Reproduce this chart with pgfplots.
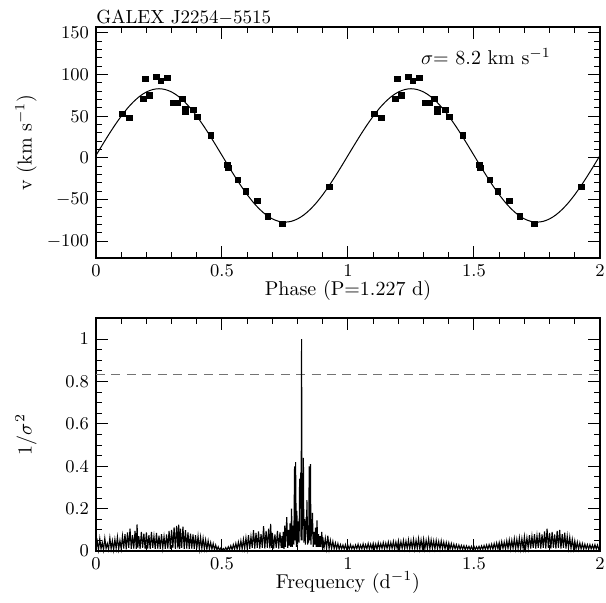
\documentclass[border=0pt]{standalone}
\usepackage{pgfplots}
\pgfplotsset{compat=1.18}

\begin{document}
\begin{tikzpicture}
\pgfplotsset{
  every axis/.append style={
    scale only axis, width=252pt,
    xmin=0, xmax=2, xtick={0,0.5,1,1.5,2}, minor x tick num=4,
    major tick length=6pt, minor tick length=3pt,
    tick style={black, line width=0.5pt},
    axis line style={line width=0.75pt},
    tick label style={font=\fontsize{9.5}{11}\selectfont},
    label style={font=\fontsize{10}{12}\selectfont},
    clip=false,
  }
}
% radial velocity curve
\begin{axis}[name=top, height=115.5pt,
  ymin=-120, ymax=157, ytick={-100,-50,0,50,100,150}, minor y tick num=4,
  xlabel={Phase~(P=1.227~d)}, ylabel={v~(km~s$^{-1}$)},
  xlabel style={at={(axis description cs:0.5,-0.14)}, anchor=center},
  ylabel style={at={(axis description cs:-0.139,0.5)}, anchor=center},
]
\addplot[black, line width=0.5pt, smooth, mark=none] coordinates {
(0.000,3.0)(0.025,15.5)(0.050,27.7)(0.075,39.3)(0.100,50.0)(0.125,59.6)(0.150,67.7)(0.175,74.3)
(0.200,79.1)(0.225,82.0)(0.250,83.0)(0.275,82.0)(0.300,79.1)(0.325,74.3)(0.350,67.7)(0.375,59.6)
(0.400,50.0)(0.425,39.3)(0.450,27.7)(0.475,15.5)(0.500,3.0)(0.525,-9.5)(0.550,-21.7)(0.575,-33.3)
(0.600,-44.0)(0.625,-53.6)(0.650,-61.7)(0.675,-68.3)(0.700,-73.1)(0.725,-76.0)(0.750,-77.0)(0.775,-76.0)
(0.800,-73.1)(0.825,-68.3)(0.850,-61.7)(0.875,-53.6)(0.900,-44.0)(0.925,-33.3)(0.950,-21.7)(0.975,-9.5)
(1.000,3.0)(1.025,15.5)(1.050,27.7)(1.075,39.3)(1.100,50.0)(1.125,59.6)(1.150,67.7)(1.175,74.3)
(1.200,79.1)(1.225,82.0)(1.250,83.0)(1.275,82.0)(1.300,79.1)(1.325,74.3)(1.350,67.7)(1.375,59.6)
(1.400,50.0)(1.425,39.3)(1.450,27.7)(1.475,15.5)(1.500,3.0)(1.525,-9.5)(1.550,-21.7)(1.575,-33.3)
(1.600,-44.0)(1.625,-53.6)(1.650,-61.7)(1.675,-68.3)(1.700,-73.1)(1.725,-76.0)(1.750,-77.0)(1.775,-76.0)
(1.800,-73.1)(1.825,-68.3)(1.850,-61.7)(1.875,-53.6)(1.900,-44.0)(1.925,-33.3)(1.950,-21.7)(1.975,-9.5)
(2.000,3.0)};
\addplot[only marks, mark=square*, mark size=1.35pt, black] coordinates {
(0.104,52.8)(0.132,48.0)(0.188,70.8)(0.196,94.8)(0.212,74.8)(0.239,97.2)(0.258,92.4)(0.283,96.0)
(0.307,66.0)(0.325,66.0)(0.343,70.8)(0.354,58.8)(0.354,55.2)(0.386,57.6)(0.402,49.2)(0.455,27.1)
(0.521,-8.0)(0.525,-11.6)(0.563,-26.0)(0.595,-40.0)(0.640,-51.6)(0.681,-70.0)(0.739,-79.2)(0.926,-34.8)
(1.104,52.8)(1.132,48.0)(1.188,70.8)(1.196,94.8)(1.212,74.8)(1.239,97.2)(1.258,92.4)(1.283,96.0)
(1.307,66.0)(1.325,66.0)(1.343,70.8)(1.354,58.8)(1.354,55.2)(1.386,57.6)(1.402,49.2)(1.455,27.1)
(1.521,-8.0)(1.525,-11.6)(1.563,-26.0)(1.595,-40.0)(1.640,-51.6)(1.681,-70.0)(1.739,-79.2)(1.926,-34.8)};
\node[anchor=west, font=\fontsize{10}{12}\selectfont] at (axis cs:1.262,121) {$\sigma$=~8.2~km~s$^{-1}$};
\node[anchor=base west, inner sep=0pt, yshift=1.8pt, font=\fontsize{9.5}{11}\selectfont] at (rel axis cs:0,1) {GALEX~J2254$-$5515};
\end{axis}

% periodogram
\begin{axis}[name=bot, at={(0pt,-146.5pt)}, height=116.5pt,
  ymin=0, ymax=1.1, ytick={0,0.2,0.4,0.6,0.8,1}, minor y tick num=3,
  xlabel={Frequency~(d$^{-1}$)}, ylabel={$1/\sigma^2$},
  xlabel style={at={(axis description cs:0.5,-0.135)}, anchor=center},
  ylabel style={at={(axis description cs:-0.139,0.5)}, anchor=center},
]
\addplot[gray!90!black, line width=0.9pt, dash pattern=on 4.5pt off 3.2pt] coordinates {(0,0.833)(2,0.833)};
\addplot[black, line width=0.55pt, mark=none] coordinates {
(0.000,0.010)(0.005,0.045)(0.010,0.005)(0.015,0.058)(0.020,0.010)(0.025,0.040)(0.030,0.005)(0.035,0.060)(0.040,0.012)(0.045,0.035)
(0.050,0.008)(0.055,0.062)(0.060,0.010)(0.065,0.048)(0.070,0.005)(0.075,0.055)(0.080,0.012)(0.085,0.066)(0.090,0.008)(0.095,0.050)
(0.100,0.010)(0.105,0.070)(0.110,0.012)(0.115,0.080)(0.120,0.008)(0.125,0.088)(0.130,0.015)(0.135,0.105)(0.140,0.010)(0.145,0.075)
(0.150,0.012)(0.155,0.095)(0.160,0.010)(0.163,0.126)(0.166,0.015)(0.170,0.070)(0.175,0.010)(0.180,0.090)(0.185,0.015)(0.190,0.082)(0.195,0.010)
(0.200,0.088)(0.205,0.012)(0.210,0.075)(0.215,0.010)(0.220,0.090)(0.225,0.015)(0.230,0.070)(0.235,0.010)(0.240,0.085)(0.245,0.012)
(0.250,0.072)(0.255,0.010)(0.260,0.080)(0.265,0.015)(0.270,0.068)(0.275,0.010)(0.280,0.078)(0.285,0.012)(0.290,0.095)(0.295,0.010)
(0.300,0.100)(0.305,0.015)(0.310,0.112)(0.315,0.010)(0.320,0.118)(0.325,0.012)(0.328,0.125)(0.332,0.010)(0.335,0.105)(0.340,0.015)(0.345,0.115)
(0.350,0.010)(0.355,0.098)(0.360,0.012)(0.365,0.088)(0.370,0.010)(0.375,0.082)(0.380,0.012)(0.385,0.078)(0.390,0.010)(0.395,0.075)
(0.400,0.012)(0.405,0.070)(0.410,0.010)(0.415,0.065)(0.420,0.012)(0.425,0.060)(0.430,0.010)(0.435,0.052)(0.440,0.008)(0.445,0.048)
(0.450,0.010)(0.455,0.040)(0.460,0.008)(0.465,0.035)(0.470,0.006)(0.475,0.028)(0.480,0.005)(0.485,0.020)(0.490,0.004)(0.495,0.014)
(0.500,0.003)(0.505,0.012)(0.510,0.004)(0.515,0.016)(0.520,0.005)(0.525,0.020)(0.530,0.006)(0.535,0.025)(0.540,0.006)(0.545,0.030)
(0.550,0.008)(0.555,0.036)(0.560,0.008)(0.565,0.042)(0.570,0.010)(0.575,0.048)(0.580,0.010)(0.585,0.055)(0.590,0.012)(0.595,0.062)
(0.600,0.012)(0.605,0.075)(0.610,0.010)(0.615,0.068)(0.620,0.015)(0.625,0.098)(0.630,0.012)(0.635,0.085)(0.640,0.015)(0.645,0.092)
(0.650,0.012)(0.655,0.080)(0.660,0.015)(0.665,0.117)(0.670,0.012)(0.675,0.095)(0.680,0.015)(0.685,0.105)(0.690,0.012)(0.693,0.128)(0.697,0.015)
(0.700,0.085)(0.705,0.012)(0.710,0.078)(0.715,0.015)(0.720,0.095)(0.725,0.012)(0.730,0.088)(0.735,0.015)(0.738,0.070)
(0.740,0.015)(0.743,0.090)(0.746,0.010)(0.749,0.120)(0.752,0.020)(0.757,0.160)(0.761,0.015)(0.764,0.100)(0.767,0.025)(0.770,0.130)
(0.773,0.020)(0.776,0.200)(0.779,0.020)(0.782,0.120)(0.785,0.030)(0.788,0.400)(0.790,0.050)(0.792,0.420)(0.795,0.020)(0.797,0.190)
(0.800,0.030)(0.803,0.140)(0.806,0.040)(0.808,0.340)(0.810,0.200)(0.812,0.370)(0.8138,0.050)(0.8158,1.000)(0.8178,0.050)(0.820,0.300)
(0.8215,0.150)(0.823,0.440)(0.825,0.040)(0.828,0.150)(0.831,0.030)(0.834,0.160)(0.8355,0.100)(0.837,0.240)(0.840,0.030)(0.842,0.120)
(0.844,0.040)(0.846,0.400)(0.848,0.050)(0.851,0.410)(0.853,0.030)(0.856,0.150)(0.8575,0.080)(0.859,0.180)(0.862,0.020)(0.865,0.090)
(0.868,0.030)(0.871,0.110)(0.874,0.020)(0.877,0.145)(0.880,0.020)(0.883,0.080)(0.886,0.020)(0.889,0.070)(0.892,0.020)(0.896,0.090)(0.899,0.015)
(0.900,0.065)(0.905,0.015)(0.910,0.060)(0.915,0.012)(0.920,0.072)(0.925,0.010)(0.930,0.050)(0.935,0.012)(0.940,0.045)(0.945,0.010)
(0.950,0.038)(0.955,0.010)(0.960,0.035)(0.965,0.008)(0.970,0.030)(0.975,0.010)(0.980,0.028)(0.985,0.008)(0.990,0.030)(0.995,0.008)
(1.000,0.026)(1.005,0.008)(1.010,0.030)(1.015,0.010)(1.020,0.025)(1.025,0.008)(1.030,0.028)(1.035,0.010)(1.040,0.032)(1.045,0.008)
(1.050,0.028)(1.055,0.010)(1.060,0.034)(1.065,0.008)(1.070,0.030)(1.075,0.010)(1.080,0.035)(1.085,0.008)(1.090,0.032)(1.095,0.010)
(1.100,0.036)(1.105,0.010)(1.110,0.033)(1.115,0.008)(1.120,0.038)(1.125,0.010)(1.130,0.035)(1.135,0.012)(1.140,0.040)(1.145,0.010)
(1.150,0.037)(1.155,0.012)(1.160,0.042)(1.165,0.010)(1.170,0.040)(1.175,0.012)(1.180,0.045)(1.185,0.010)(1.190,0.042)(1.195,0.012)
(1.200,0.048)(1.205,0.010)(1.210,0.044)(1.215,0.012)(1.220,0.050)(1.225,0.010)(1.230,0.046)(1.235,0.012)(1.240,0.052)(1.245,0.010)
(1.250,0.048)(1.255,0.012)(1.260,0.055)(1.265,0.010)(1.270,0.050)(1.275,0.012)(1.280,0.058)(1.285,0.010)(1.290,0.052)(1.295,0.012)
(1.300,0.056)(1.305,0.010)(1.310,0.050)(1.315,0.012)(1.320,0.057)(1.325,0.010)(1.330,0.052)(1.335,0.012)(1.340,0.048)(1.345,0.010)
(1.350,0.050)(1.355,0.012)(1.360,0.045)(1.365,0.010)(1.370,0.048)(1.375,0.012)(1.380,0.042)(1.385,0.010)(1.390,0.040)(1.395,0.010)
(1.400,0.038)(1.405,0.010)(1.410,0.035)(1.415,0.008)(1.420,0.032)(1.425,0.010)(1.430,0.030)(1.435,0.008)(1.440,0.028)(1.445,0.008)
(1.450,0.026)(1.455,0.008)(1.460,0.025)(1.465,0.006)(1.470,0.024)(1.475,0.008)(1.480,0.022)(1.485,0.006)(1.490,0.022)(1.495,0.006)
(1.500,0.022)(1.505,0.006)(1.510,0.020)(1.515,0.008)(1.520,0.022)(1.525,0.006)(1.530,0.024)(1.535,0.008)(1.540,0.026)(1.545,0.008)
(1.550,0.028)(1.555,0.008)(1.560,0.030)(1.565,0.010)(1.570,0.032)(1.575,0.008)(1.580,0.035)(1.585,0.010)(1.590,0.038)(1.595,0.010)
(1.600,0.040)(1.605,0.010)(1.610,0.044)(1.615,0.012)(1.620,0.042)(1.625,0.010)(1.630,0.048)(1.635,0.012)(1.640,0.052)(1.645,0.010)
(1.650,0.050)(1.655,0.012)(1.660,0.058)(1.665,0.010)(1.670,0.055)(1.675,0.012)(1.680,0.062)(1.685,0.010)(1.690,0.058)(1.695,0.012)
(1.700,0.068)(1.705,0.012)(1.710,0.062)(1.715,0.015)(1.720,0.075)(1.725,0.012)(1.730,0.070)(1.735,0.015)(1.740,0.080)(1.745,0.012)
(1.750,0.072)(1.755,0.015)(1.760,0.087)(1.765,0.012)(1.770,0.078)(1.775,0.015)(1.780,0.092)(1.785,0.012)(1.790,0.105)(1.795,0.015)
(1.800,0.085)(1.805,0.012)(1.810,0.090)(1.815,0.015)(1.820,0.078)(1.825,0.012)(1.830,0.095)(1.835,0.015)(1.840,0.100)(1.845,0.012)
(1.850,0.080)(1.855,0.015)(1.860,0.087)(1.865,0.012)(1.870,0.070)(1.875,0.015)(1.880,0.065)(1.885,0.012)(1.890,0.055)(1.895,0.010)
(1.900,0.048)(1.905,0.010)(1.910,0.042)(1.915,0.008)(1.920,0.038)(1.925,0.010)(1.930,0.035)(1.935,0.008)(1.940,0.032)(1.945,0.010)
(1.950,0.030)(1.955,0.008)(1.960,0.030)(1.965,0.010)(1.970,0.028)(1.975,0.008)(1.980,0.030)(1.985,0.010)(1.990,0.028)(1.995,0.008)(2.000,0.026)};
\end{axis}
\pgfresetboundingbox
\path[use as bounding box] (-48pt,-172pt) rectangle (255pt,129pt);
\end{tikzpicture}
\end{document}
